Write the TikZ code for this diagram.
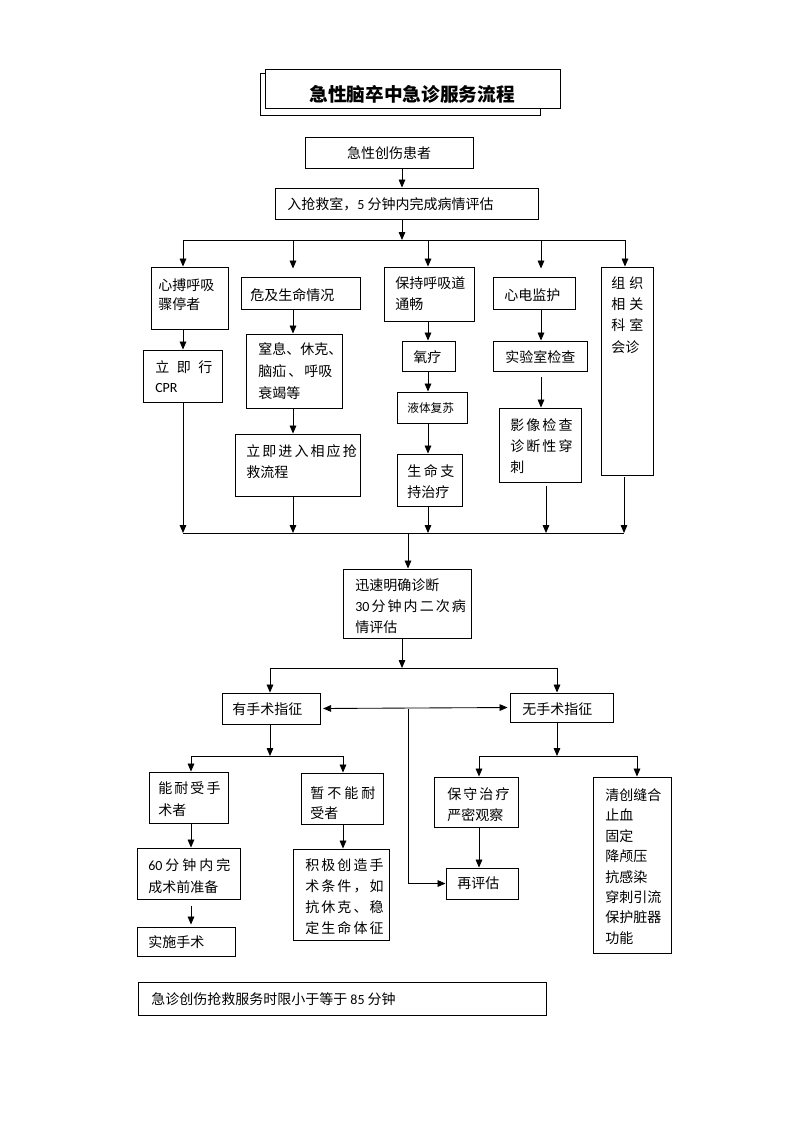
\documentclass[tikz,border=0pt]{standalone}
\usepackage{fontspec}
\setmainfont{Noto Sans CJK SC}
\newfontfamily\lat{Carlito}
\usetikzlibrary{arrows.meta,fit}
\newcommand\fz{\fontsize{10.5pt}{15.75pt}\selectfont}
\newcommand\sprd[2]{\makebox[#1][s]{#2}}
\tikzset{
  box/.style={draw, line width=0.7pt, inner sep=0pt, fill=white},
  txt/.style={anchor=west, inner sep=0pt, align=left, font=\fz},
  arr/.style={-{Triangle[length=6pt,width=5pt]}, line width=0.65pt},
  arrtwo/.style={{Triangle[length=6pt,width=5pt]}-{Triangle[length=6pt,width=5pt]}, line width=0.65pt},
  ln/.style={line width=0.65pt}
}
\begin{document}
\begin{tikzpicture}[x=0.75pt,y=-0.75pt]
\fill[white] (0,0) rectangle (793,1122);
\useasboundingbox (0,0) rectangle (793,1122);

% title
\node[box, fit={(260,73) (540,115)}] (tback) {};
\node[box, fit={(265,69) (560,108)}] (tfront) {};
\node[inner sep=0pt, font=\fontsize{14pt}{16pt}\selectfont\bfseries] (title) at (412,94) {急性脑卒中急诊服务流程};

% boxes
\node[box, fit={(305,137) (473,168)}] (n1) {};
\node[box, fit={(275,188) (538,219)}] (n2) {};
\node[box, fit={(151,267) (228,329)}] (heart) {};
\node[box, fit={(143,350) (222,402)}] (cpr) {};
\node[box, fit={(241,277) (360,309)}] (danger) {};
\node[box, fit={(246,334) (342,408)}] (asphyx) {};
\node[box, fit={(235,434) (360,496)}] (enter) {};
\node[box, fit={(384,267) (474,321)}] (airway) {};
\node[box, fit={(402,341) (455,371)}] (oxy) {};
\node[box, fit={(397,392) (467,423)}] (fluid) {};
\node[box, fit={(397,454) (462,506)}] (life) {};
\node[box, fit={(493,277) (575,309)}] (ecg) {};
\node[box, fit={(493,341) (587,371)}] (lab) {};
\node[box, fit={(499,408) (581,482)}] (img) {};
\node[box, fit={(601,267) (653,475)}] (consult) {};
\node[box, fit={(343,569) (471,638)}] (diag) {};
\node[box, fit={(222,693) (320,724)}] (yes) {};
\node[box, fit={(510,693) (613,722)}] (no) {};
\node[box, fit={(149,772) (228,823)}] (tol) {};
\node[box, fit={(301,773) (383,824)}] (notol) {};
\node[box, fit={(137,848) (240,899)}] (prep) {};
\node[box, fit={(137,927) (235,956)}] (op) {};
\node[box, fit={(293,849) (389,940)}] (create) {};
\node[box, fit={(434,777) (518,827)}] (cons) {};
\node[box, fit={(446,868) (518,899)}] (reeval) {};
\node[box, fit={(593,777) (671,953)}] (debride) {};
\node[box, fit={(138,982) (546,1015)}] (note) {};

% texts
\node[txt, anchor=center] (n1-t) at (389,153) {急性创伤患者};
\node[txt] (n2-t) at (287,204) {入抢救室，{\lat 5} 分钟内完成病情评估};
\node[txt, font=\fontsize{10.5pt}{14.25pt}\selectfont] (heart-t) at (158,294.5) {心搏呼吸\\骤停者};
\node[txt, font=\fontsize{10.5pt}{15pt}\selectfont] (cpr-t) at (155,377) {\sprd{42.75pt}{立 即 行}\\{\lat CPR}};
\node[txt] (danger-t) at (250,295) {危及生命情况};
\node[txt, font=\fontsize{10.5pt}{16.5pt}\selectfont] (asphyx-t) at (258,371) {窒息、休克、\\\sprd{55.5pt}{脑疝 、 呼吸}\\衰竭等};
\node[txt] (enter-t) at (246,461.5) {\sprd{78pt}{立 即 进 入 相 应 抢}\\救流程};
\node[txt] (airway-t) at (395,293.5) {保持呼吸道\\通畅};
\node[txt] (oxy-t) at (413,357) {氧疗};
\node[txt, font=\fontsize{8.8pt}{10pt}\selectfont] (fluid-t) at (407,408) {液体复苏};
\node[txt] (life-t) at (407,481.5) {\sprd{35.25pt}{生 命 支}\\持治疗};
\node[txt] (ecg-t) at (504,295) {心电监护};
\node[txt] (lab-t) at (505,357) {实验室检查};
\node[txt] (img-t) at (510,446) {\sprd{46.5pt}{影 像 检 查}\\\sprd{46.5pt}{诊 断 性 穿}\\刺};
\node[txt, font=\fontsize{10.5pt}{16pt}\selectfont] (consult-t) at (611,315) {\sprd{24pt}{组 织}\\\sprd{24pt}{相 关}\\\sprd{24pt}{科 室}\\会诊};
\node[txt] (diag-t) at (355,606) {迅速明确诊断\\\sprd{78.75pt}{{\lat 30} 分 钟 内 二 次 病}\\情评估};
\node[txt] (yes-t) at (232,709) {有手术指征};
\node[txt] (no-t) at (522,709) {无手术指征};
\node[txt, font=\fontsize{10.5pt}{16.5pt}\selectfont] (tol-t) at (158,799) {\sprd{44.25pt}{能 耐 受 手}\\术者};
\node[txt, font=\fontsize{10.5pt}{15pt}\selectfont] (notol-t) at (310,803) {\sprd{48.75pt}{暂 不 能 耐}\\受者};
\node[txt, font=\fontsize{10.5pt}{16.5pt}\selectfont] (prep-t) at (148,876) {\sprd{61.5pt}{{\lat 60} 分 钟 内 完}\\成术前准备};
\node[txt] (op-t) at (148,942) {实施手术};
\node[txt] (create-t) at (305,897) {\sprd{55.5pt}{积 极 创 造 手}\\\sprd{55.5pt}{术 条 件 ， 如}\\\sprd{55.5pt}{抗 休 克 、 稳}\\\sprd{55.5pt}{定 生 命 体 征}};
\node[txt] (cons-t) at (447,804.5) {\sprd{45.75pt}{保 守 治 疗}\\严密观察};
\node[txt] (reeval-t) at (457,883) {再评估};
\node[txt, font=\fontsize{10.5pt}{15.3pt}\selectfont] (debride-t) at (605,866.5) {清创缝合\\止血\\固定\\降颅压\\抗感染\\穿刺引流\\保护脏器\\功能};
\node[txt] (note-t) at (151,999) {急诊创伤抢救服务时限小于等于 {\lat 85} 分钟};

% junction coordinates
\coordinate (b1L) at (183,240); \coordinate (b1R) at (625,240);
\coordinate (b1m) at (402,240); \coordinate (b1a) at (293,240);
\coordinate (b1b) at (428,240); \coordinate (b1c) at (541,240);
\coordinate (b2L) at (183,533); \coordinate (b2R) at (624,533);
\coordinate (b2m) at (408,533); \coordinate (b2a) at (293,533);
\coordinate (b2b) at (428,533); \coordinate (b2c) at (546,533);
\coordinate (b3L) at (270,668); \coordinate (b3R) at (557,668);
\coordinate (b3m) at (402,668);
\coordinate (mid) at (408,709);
\coordinate (b4a) at (191,756); \coordinate (b4b) at (343,756);
\coordinate (b4m) at (270,756);
\coordinate (b4c) at (479,756); \coordinate (b4d) at (637,756);
\coordinate (b4n) at (557,756);

% connectors top
\draw[arr] (n1.south -| b1m) -- (n2.north -| b1m);
\draw[arr] (n2.south -| b1m) -- (b1m);
\draw[ln] (b1L) -- (b1R);
\draw[arr] (b1L) -- (heart.north -| b1L);
\draw[arr, shorten >=6pt] (b1a) -- (danger.north -| b1a);
\draw[arr] (b1b) -- (airway.north -| b1b);
\draw[arr, shorten >=6pt] (b1c) -- (ecg.north -| b1c);
\draw[arr] (b1R) -- (consult.north -| b1R);

% columns
\draw[arr] (heart.south -| b1L) -- (cpr.north -| b1L);
\draw[arr] (cpr.south -| b2L) -- (b2L);
\draw[arr] (danger.south -| b1a) -- (asphyx.north -| b1a);
\draw[arr] (asphyx.south -| b1a) -- (enter.north -| b1a);
\draw[arr] (enter.south -| b2a) -- (b2a);
\draw[arr] (airway.south -| b1b) -- (oxy.north -| b1b);
\draw[arr] (oxy.south -| b1b) -- (fluid.north -| b1b);
\draw[arr] (fluid.south -| b1b) -- (life.north -| b1b);
\draw[arr] (life.south -| b2b) -- (b2b);
\draw[arr] (ecg.south -| b1c) -- (lab.north -| b1c);
\draw[arr, shorten <=4.5pt] (lab.south -| b1c) -- (img.north -| b1c);
\draw[arr, shorten <=3pt] (img.south -| b2c) -- (b2c);
\draw[arr, shorten <=1.5pt] (consult.south -| b2R) -- (b2R);
\draw[ln] (b2L) -- (b2R);
\draw[arr] (b2m) -- (diag.north -| b2m);

% middle
\draw[arr] (diag.south -| b3m) -- (b3m);
\draw[ln] (b3L) -- (b3R);
\draw[arr] (b3L) -- (yes.north -| b3L);
\draw[arr] (b3R) -- (no.north -| b3R);
\draw[arrtwo, shorten <=2pt, shorten >=1.5pt] (yes.east) -- (no.west);
\draw[arr] (mid) |- (reeval.west);

% lower
\draw[arr] (yes.south -| b4m) -- (b4m);
\draw[ln] (b4a) -- (b4b);
\draw[arr] (b4a) -- (tol.north -| b4a);
\draw[arr] (b4b) -- (notol.north -| b4b);
\draw[arr] (no.south -| b4n) -- (b4n);
\draw[ln] (b4c) -- (b4d);
\draw[arr] (b4c) -- (cons.north -| b4c);
\draw[arr] (b4d) -- (debride.north -| b4d);
\draw[arr] (cons.south -| b4c) -- (reeval.north -| b4c);
\draw[arr] (tol.south -| b4a) -- (prep.north -| b4a);
\draw[arr, shorten <=5pt, shorten >=1.5pt] (prep.south -| b4a) -- (op.north -| b4a);
\draw[arr] (notol.south -| b4b) -- (create.north -| b4b);
\end{tikzpicture}
\end{document}
